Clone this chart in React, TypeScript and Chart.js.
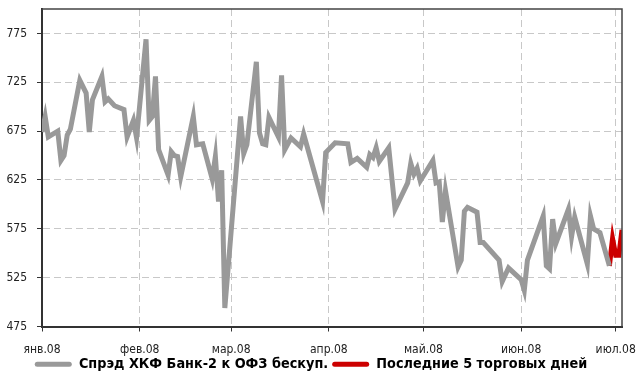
import React, { useEffect, useRef } from "react";
import { Chart, registerables } from "chart.js";

Chart.register(...registerables);

// x positions are days counted from 1 Jan 2008
const monthTickDays = [0, 31, 60, 91, 121, 152, 182];
const monthLabels = ["янв.08", "фев.08", "мар.08", "апр.08", "май.08", "июн.08", "июл.08"];
const yTickValues = [475, 525, 575, 625, 675, 725, 775];

const spreadDays = [
  0, 1, 2, 5, 6, 7, 8, 9, 12, 14, 15, 16, 19, 20, 21, 23, 26, 27, 29, 30,
  33, 34, 35, 36, 37, 40, 41, 42, 43, 44, 48, 49, 51, 54, 55, 56, 57, 58,
  63, 64, 65, 68, 69, 70, 71, 72, 75, 76, 77, 79, 82, 83, 85, 89, 90, 93,
  97, 98, 100, 103, 104, 105, 106, 107, 110, 112, 116, 117, 118, 119, 120,
  124, 125, 126, 127, 128, 132, 133, 134, 135, 138, 139, 140, 145, 146, 148,
  149, 152, 153, 154, 159, 160, 161, 162, 163, 167, 168, 169, 173, 174, 175,
  177, 180,
];
const spreadValues = [
  674, 690, 669, 675, 645, 650, 671, 677, 727, 714, 674, 707, 731, 705, 708, 701, 697, 669, 686, 668,
  769, 686, 690, 731, 656, 630, 654, 650, 649, 628, 690, 661, 662, 626, 649, 603, 635, 494,
  690, 652, 661, 746, 673, 662, 661, 689, 669, 732, 656, 668, 659, 672, 649, 603, 653, 663,
  662, 643, 647, 638, 651, 648, 658, 644, 658, 595, 622, 642, 631, 637, 624,
  645, 622, 623, 582, 614, 536, 543, 593, 597, 592, 561, 561, 543, 521, 535,
  532, 523, 512, 543, 588, 537, 534, 585, 560, 595, 567, 587, 539, 588, 575,
  571, 537,
];
const lastDays = [180, 181, 182, 183, 184];
const lastValues = [537, 565, 548, 548, 574];

const seriesNames = ["Спрэд ХКФ Банк-2 к ОФЗ бескуп.", "Последние 5 торговых дней"];
const seriesColors = ["#999999", "#cc0000"];

const NARROW = "'Liberation Sans Narrow', 'Arial Narrow', 'DejaVu Sans Condensed', sans-serif";

const framePlugin = {
  id: "frame",
  afterDatasetsDraw(chart: any) {
    const { ctx, chartArea: a } = chart;
    ctx.save();
    ctx.strokeStyle = "#444444";
    ctx.lineWidth = 1.5;
    ctx.beginPath();
    ctx.moveTo(a.left, a.top);
    ctx.lineTo(a.right, a.top);
    ctx.lineTo(a.right, a.bottom);
    ctx.stroke();
    ctx.restore();
  },
};

function fixScale(scale: any) {
  scale.paddingTop = 0;
  scale.paddingBottom = 0;
  scale.paddingLeft = 0;
  scale.paddingRight = 0;
  // let tick labels overflow the scale box instead of being clipped
  scale._computeLabelArea = () => undefined;
}

export default function App() {
  const ref = useRef<HTMLCanvasElement | null>(null);

  useEffect(() => {
    if (!ref.current) return;
    const chart = new Chart(ref.current, {
      type: "line",
      data: {
        datasets: [
          {
            label: seriesNames[0],
            data: spreadDays.map((d, i) => ({ x: d, y: spreadValues[i] })),
            borderColor: seriesColors[0],
            backgroundColor: seriesColors[0],
            borderWidth: 5,
            pointRadius: 0,
            fill: false,
            tension: 0,
          },
          {
            label: seriesNames[1],
            data: lastDays.map((d, i) => ({ x: d, y: lastValues[i] })),
            borderColor: seriesColors[1],
            backgroundColor: seriesColors[1],
            borderWidth: 5,
            pointRadius: 0,
            fill: false,
            tension: 0,
          },
        ],
      },
      options: {
        animation: false,
        responsive: true,
        maintainAspectRatio: false,
        layout: { padding: { top: 9, left: 0, right: 15, bottom: 0 } },
        plugins: {
          tooltip: { enabled: false },
          legend: {
            position: "bottom",
            maxHeight: 23,
            labels: {
              boxWidth: 37,
              boxHeight: 5,
              padding: 4,
              color: "#000000",
              font: { family: NARROW, size: 14.3, weight: "bold" },
              generateLabels(c: any) {
                const items = (Chart as any).defaults.plugins.legend.labels.generateLabels(c);
                return items.map((it: any) => ({ ...it, lineWidth: 0, borderRadius: 2.5 }));
              },
            },
          },
        },
        scales: {
          x: {
            type: "linear",
            min: 0,
            max: 184,
            afterFit(scale: any) {
              scale.height = 26.5;
              fixScale(scale);
            },
            afterBuildTicks(scale: any) {
              scale.ticks = monthTickDays.map((v) => ({ value: v }));
            },
            ticks: {
              autoSkip: false,
              maxRotation: 0,
              padding: 11,
              color: "#222222",
              font: { family: NARROW, size: 12 },
              callback: (_v: any, i: number) => monthLabels[i],
            },
            grid: {
              color: "#c8c8c8",
              lineWidth: 1,
              tickLength: 5,
              tickColor: "#333333",
            },
            border: { display: true, color: "#333333", width: 2, dash: [7, 4] },
          },
          y: {
            type: "linear",
            min: 475,
            max: 800,
            afterFit(scale: any) {
              scale.width = 42;
              fixScale(scale);
            },
            afterBuildTicks(scale: any) {
              scale.ticks = yTickValues.map((v) => ({ value: v }));
            },
            ticks: {
              padding: 10,
              color: "#222222",
              font: { family: NARROW, size: 12 },
              callback: (v: any) => String(v),
            },
            grid: {
              color: "#c8c8c8",
              lineWidth: 1,
              tickLength: 5,
              tickColor: "#333333",
            },
            border: { display: true, color: "#333333", width: 2, dash: [7, 4] },
          },
        },
      },
      plugins: [framePlugin],
    } as any);
    return () => chart.destroy();
  }, []);

  return (
    <div style={{ position: "absolute", left: 0, top: 0, width: 637, height: 376, background: "#ffffff" }}>
      <canvas ref={ref} />
    </div>
  );
}
